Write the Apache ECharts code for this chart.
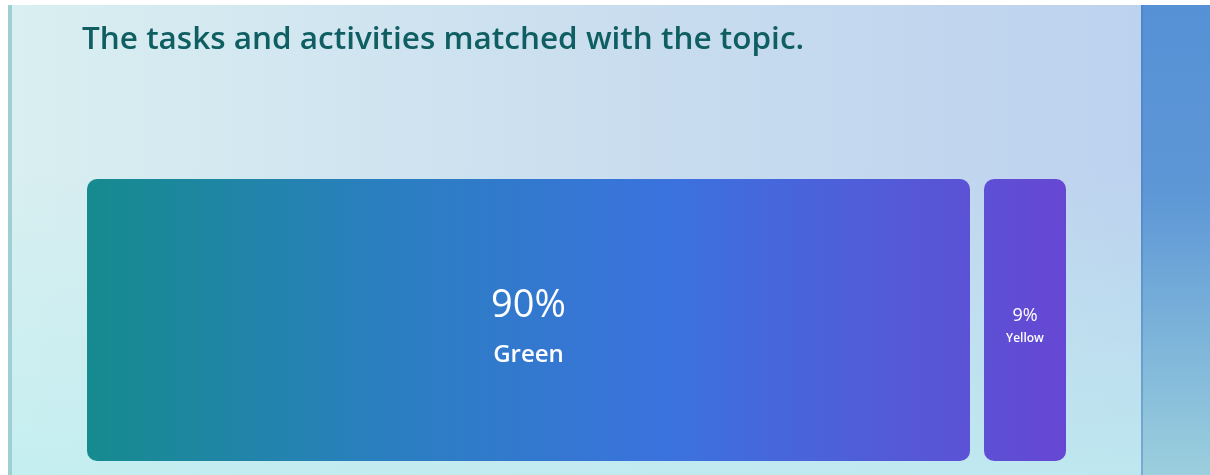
<!DOCTYPE html>
<html>
<head>
<meta charset="utf-8">
<script src="https://cdn.jsdelivr.net/npm/echarts@6/dist/echarts.min.js"></script>
<style>
  html, body { margin: 0; padding: 0; background: #fff; }
  body { width: 1210px; height: 475px; position: relative; overflow: hidden; }
  .panel {
    position: absolute; left: 8px; top: 5px; width: 1133px; height: 470px;
    border-left: 4px solid #9fcfd2; box-sizing: border-box;
    background:
      linear-gradient(to bottom, rgba(190,238,240,0) 35%, rgba(190,238,240,0.75) 100%),
      linear-gradient(to right, #d9eff1 0%, #c9ddef 55%, #bdd2ee 100%);
  }
  .side {
    position: absolute; left: 1141px; top: 5px; width: 69px; height: 470px;
    border-left: 2px solid rgba(70,120,185,0.4); box-sizing: border-box;
    background: linear-gradient(to bottom, #5691d6 0%, #5d97d6 40%, #9bcfdd 100%);
  }
  #chart { position: absolute; left: 0; top: 0; width: 1210px; height: 475px; }
</style>
</head>
<body>
<div class="panel"></div>
<div class="side"></div>
<div id="chart"></div>
<script>
const categories = ['Green', 'Yellow'];
const values = [90, 9];
const valueLabels = ['90%', '9%'];

// cumulative start/end for each segment
let acc = 0;
const segments = categories.map((name, i) => {
  const start = acc;
  acc += values[i];
  return [start, acc, i];
});
const total = acc;

const chart = echarts.init(document.getElementById('chart'));
const gap = 7;

function renderItem(params, api) {
  const s = api.value(0), e = api.value(1), idx = api.value(2);
  const p0 = api.coord([s, 0]);
  const p1 = api.coord([e, 0]);
  const h = api.size([0, 1])[1];
  const first = s === 0, last = e === total;
  const x0 = p0[0] + (first ? 0 : gap);
  const x1 = p1[0] - (last ? 0 : gap);
  const y = p0[1] - h / 2;
  const w = x1 - x0;
  // one gradient across the whole bar
  const g0 = api.coord([0, 0])[0], g1 = api.coord([total, 0])[0];
  const fill = new echarts.graphic.LinearGradient(g0, 0, g1, 0, [
    { offset: 0, color: '#168b8e' },
    { offset: 0.3, color: '#2a7fbf' },
    { offset: 0.6, color: '#3b72de' },
    { offset: 1, color: '#6647d3' }
  ], true);
  const big = w > 200;
  const cx = x0 + w / 2, cy = y + h / 2;
  return {
    type: 'group',
    children: [
      { type: 'rect', shape: { x: x0, y: y, width: w, height: h, r: 10 }, style: { fill: fill } },
      {
        type: 'text',
        style: {
          text: valueLabels[idx], x: cx, y: cy + (big ? -14 : -4),
          align: 'center', verticalAlign: 'middle',
          fill: '#fff', fontSize: big ? 38 : 18, fontFamily: 'Open Sans'
        }
      },
      {
        type: 'text',
        style: {
          text: categories[idx], x: cx, y: cy + (big ? 35 : 19),
          align: 'center', verticalAlign: 'middle',
          fill: '#fff', fontSize: big ? 24 : 12, fontWeight: 600, fontFamily: 'Open Sans'
        }
      }
    ]
  };
}

chart.setOption({
  backgroundColor: 'transparent',
  animation: false,
  title: {
    text: 'The tasks and activities matched with the topic.',
    left: 77, top: 19,
    textStyle: { color: '#0e5e62', fontSize: 31.5, fontWeight: 600, fontFamily: 'Open Sans' }
  },
  grid: { left: 87, right: 144, top: 179, bottom: 14 },
  xAxis: { type: 'value', min: 0, max: total, show: false },
  yAxis: { type: 'category', data: ['bar'], show: false },
  series: [{
    type: 'custom',
    renderItem: renderItem,
    encode: { x: [0, 1] },
    data: segments
  }]
});
</script>
</body>
</html>
